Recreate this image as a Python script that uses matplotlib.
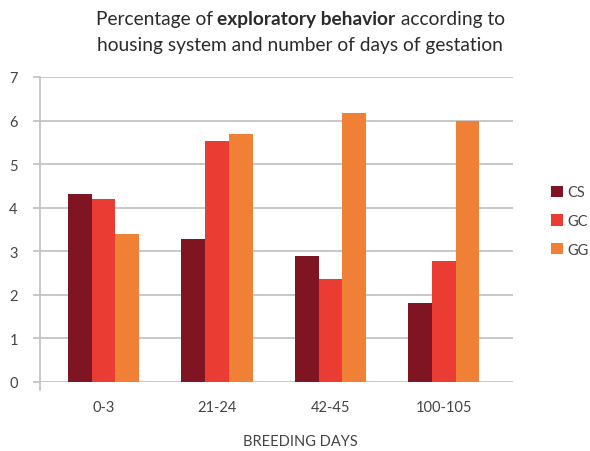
import matplotlib
matplotlib.use("Agg")
import matplotlib.pyplot as plt
from matplotlib.patches import Patch
import numpy as np

# Data
categories = ["0-3", "21-24", "42-45", "100-105"]
series_names = ["CS", "GC", "GG"]
cs_values = [4.32, 3.28, 2.89, 1.81]
gc_values = [4.20, 5.54, 2.36, 2.78]
gg_values = [3.40, 5.70, 6.18, 6.00]
y_ticks = [0, 1, 2, 3, 4, 5, 6, 7]

colors = ["#7f1423", "#eb3c34", "#ef8035"]
text_color = "#444444"
grid_color = "#bfbfbf"

plt.rcParams["font.family"] = ["Lato", "DejaVu Sans"]

fig = plt.figure(figsize=(5.9, 4.52), dpi=100)
ax = fig.add_axes([40 / 590, 1 - 383 / 452, 473 / 590, 305 / 452])

x = np.arange(len(categories))
width = 0.209
for i, (vals, col) in enumerate(zip([cs_values, gc_values, gg_values], colors)):
    ax.bar(x + (i - 1) * width, vals, width=width, color=col, zorder=3, linewidth=0)

ax.set_xlim(-0.56, 3.61)
ax.set_ylim(0, 7)
ax.set_yticks(y_ticks)
ax.set_xticks(x)
ax.set_xticklabels(categories)

for s in ["top", "right", "bottom", "left"]:
    ax.spines[s].set_visible(False)

ax.yaxis.grid(True, color=grid_color, linewidth=1.2, zorder=0)
ax.tick_params(axis="y", length=5, width=1.2, color=grid_color, pad=11,
               labelsize=10.5, labelcolor=text_color)
ax.tick_params(axis="x", length=0, pad=13, labelsize=10.5, labelcolor=text_color)

# Vertical axis line extending slightly below zero
ax.plot([0, 0], [-0.025, 1], transform=ax.transAxes, color=grid_color,
        linewidth=1.2, clip_on=False, zorder=4)

fig.text(300 / 590, 1 - 442 / 452, "BREEDING DAYS", fontsize=10.5,
         color=text_color, ha="center", va="center")

handles = [Patch(facecolor=c, edgecolor="none") for c in colors]
fig.legend(handles, series_names, loc="center left",
           bbox_to_anchor=(551 / 590, 1 - 222 / 452), frameon=False,
           fontsize=10.5, labelcolor=text_color, handlelength=0.8,
           handleheight=0.8, handletextpad=0.3, labelspacing=1.0,
           borderpad=0, borderaxespad=0)

# Two-line title with a bold phrase in the first line
fig.canvas.draw()
renderer = fig.canvas.get_renderer()
title_size = 13.8
title_color = "#2b2b2b"
cx = 300 / 590


def centered_segments(segments, y):
    texts = []
    for s, weight in segments:
        t = fig.text(0, y, s, fontsize=title_size, fontweight=weight,
                     color=title_color, ha="left", va="center")
        texts.append(t)
    widths = [t.get_window_extent(renderer).width for t in texts]
    total = sum(widths)
    start = cx * fig.bbox.width - total / 2
    for t, w in zip(texts, widths):
        t.set_x(start / fig.bbox.width)
        start += w


centered_segments([("Percentage of ", "normal"),
                   ("exploratory behavior", "bold"),
                   (" according to", "normal")], 1 - 20 / 452)
centered_segments([("housing system and number of days of gestation", "normal")],
                  1 - 45 / 452)

fig.savefig("out.png", dpi=100)
